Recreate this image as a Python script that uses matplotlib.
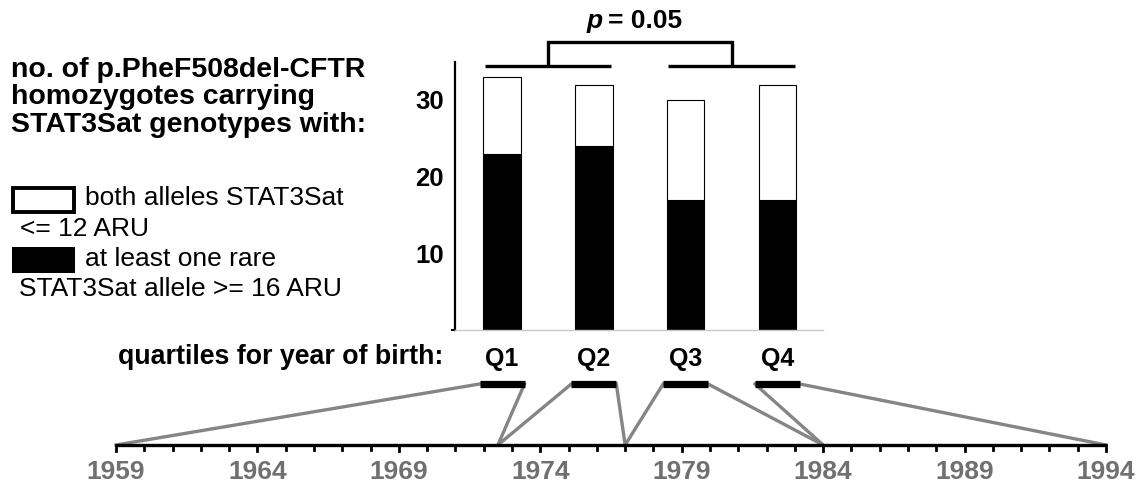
import numpy as np
import matplotlib.pyplot as plt
from matplotlib.patches import Rectangle

plt.rcParams['font.family'] = ['Liberation Sans', 'DejaVu Sans']

# data
quartiles = ['Q1', 'Q2', 'Q3', 'Q4']
n_total = [33, 32, 30, 32]
n_rare = [23, 24, 17, 17]
n_short = [t - r for t, r in zip(n_total, n_rare)]
year_bounds = [1959, 1972.5, 1977, 1984, 1994]
year_labels = [1959, 1964, 1969, 1974, 1979, 1984, 1989, 1994]
p_value = '0.05'

W, H = 1146, 487
fig = plt.figure(figsize=(W / 100, H / 100), dpi=100)


def fx(px):
    return px / W


def fy(py):
    return 1 - py / H


# stacked bars
ax = fig.add_axes([fx(455), fy(330), fx(823 - 455), (330 - 61.5) / H])
pos = np.arange(1, len(quartiles) + 1)
bw = 0.41
ax.bar(pos, n_rare, width=bw, color='black', edgecolor='black', linewidth=0.8)
ax.bar(pos, n_short, bottom=n_rare, width=bw, color='white', edgecolor='black', linewidth=0.8)
ax.set_xlim(0.488, 4.496)
ax.set_ylim(0, 35)
for s in ['top', 'right']:
    ax.spines[s].set_visible(False)
ax.spines['left'].set_linewidth(1.6)
ax.spines['bottom'].set_color('#c8c8c8')
ax.spines['bottom'].set_linewidth(1.0)
ax.set_yticks([10, 20, 30])
ax.set_yticklabels(['10', '20', '30'], fontsize=18.5, fontweight='bold')
ax.set_yticks([0], minor=True)
ax.tick_params(axis='y', which='major', length=0, pad=8)
ax.tick_params(axis='y', which='minor', length=3, width=1.5)
ax.set_xticks(pos)
ax.set_xticklabels(quartiles, fontsize=18, fontweight='bold')
ax.tick_params(axis='x', length=0, pad=12)

# significance bracket
y_low, y_high = 34.45, 37.55
groups = [(pos[0] - 0.19, pos[1] + 0.19), (pos[2] - 0.19, pos[3] + 0.19)]
mids = []
for a, b in groups:
    ax.plot([a, b], [y_low, y_low], color='black', lw=2.4, clip_on=False, solid_capstyle='butt')
    mids.append((a + b) / 2)
ax.plot([mids[0], mids[0], mids[1], mids[1]], [y_low, y_high, y_high, y_low],
        color='black', lw=2.4, clip_on=False, solid_capstyle='butt', solid_joinstyle='miter')
fig.text(fx(603), fy(21), 'p', fontsize=19, fontweight='bold', style='italic', ha='right', va='center')
fig.text(fx(608), fy(21), '= ' + p_value, fontsize=19, fontweight='bold', ha='left', va='center')

# left-hand text and legend
title_lines = ['no. of p.PheF508del-CFTR', 'homozygotes carrying', 'STAT3Sat genotypes with:']
for i, line in enumerate(title_lines):
    fig.text(fx(11), fy(77 + 27.5 * i), line, fontsize=20.5, fontweight='bold', ha='left', va='baseline')

fig.add_artist(Rectangle((fx(13), fy(212)), fx(61), 24 / H, transform=fig.transFigure,
                         facecolor='white', edgecolor='black', lw=2.8))
fig.add_artist(Rectangle((fx(12), fy(273)), fx(63), 26 / H, transform=fig.transFigure,
                         facecolor='black', edgecolor='black', lw=0))
fig.text(fx(85), fy(198), 'both alleles STAT3Sat', fontsize=19, ha='left', va='center')
fig.text(fx(20), fy(229), '<= 12 ARU', fontsize=19, ha='left', va='center')
fig.text(fx(85), fy(259), 'at least one rare', fontsize=19, ha='left', va='center')
fig.text(fx(19), fy(289), 'STAT3Sat allele >= 16 ARU', fontsize=19, ha='left', va='center')
fig.text(fx(443), fy(357), 'quartiles for year of birth:', fontsize=19.3, fontweight='bold',
         ha='right', va='center')

# year-of-birth timeline (x in years, y in pixels)
axt = fig.add_axes([0, 0, 1, 1], zorder=-1)
axt.axis('off')
px_per_year = (1106 - 116) / 35
axt.set_xlim(1959 - 116 / px_per_year, 1994 + (W - 1106) / px_per_year)
axt.set_ylim(H, 0)
y_axis = 445
axt.plot([1959, 1994], [y_axis, y_axis], color='black', lw=2.4, solid_capstyle='butt')
for yr in range(1959, 1995):
    tl = 6 if yr in year_labels else 4.5
    axt.plot([yr, yr], [y_axis, y_axis + tl], color='black', lw=2)
for yr in year_labels:
    axt.text(yr, 472, str(yr), fontsize=19, fontweight='bold', color='#707070', ha='center', va='center')

# quartile bars below the labels, linked to their year ranges
y_q = -7.04
hw = 0.245
to_t = axt.transData.inverted()
for i, p in enumerate(pos):
    left = to_t.transform(ax.transData.transform((p - hw, y_q)))
    right = to_t.transform(ax.transData.transform((p + hw, y_q)))
    axt.plot([left[0], year_bounds[i]], [left[1], y_axis], color='#858585', lw=2.4, zorder=1)
    axt.plot([right[0], year_bounds[i + 1]], [right[1], y_axis], color='#858585', lw=2.4, zorder=1)
    axt.plot([left[0], right[0]], [left[1], right[1]], color='black', lw=5.2,
             solid_capstyle='butt', zorder=3)

fig.savefig('out.png', dpi=100)
